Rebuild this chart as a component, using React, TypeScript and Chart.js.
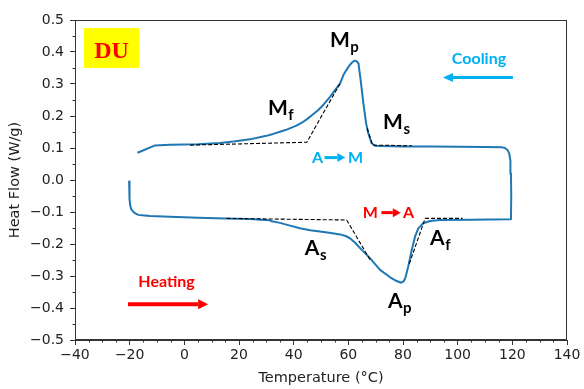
import React, { useEffect, useRef } from 'react';
import { Chart, registerables } from 'chart.js';

Chart.register(...registerables);

// Heating segment (lower curve), temperature °C and heat flow W/g
const heatT = [-20.2, -20.1, -20.0, -19.8, -19.4, -18.7, -17.8, -16.8, -14.5, -12.6, -5.2, 5, 15, 24, 28, 31.3, 32.0, 35, 38, 42.3, 46, 49.6, 53, 57, 59, 60.6, 62.5, 64.3, 68, 71.6, 75.3, 77.5, 79.3, 80.2, 80.9, 81.9, 83.2, 84.4, 85.6, 87.4, 89.9, 93.6, 105, 119.4];
const heatV = [-0.005, -0.03, -0.06, -0.08, -0.092, -0.099, -0.105, -0.109, -0.111, -0.1125, -0.115, -0.118, -0.12, -0.122, -0.124, -0.126, -0.129, -0.134, -0.141, -0.151, -0.157, -0.161, -0.165, -0.17, -0.175, -0.182, -0.196, -0.213, -0.245, -0.281, -0.304, -0.315, -0.321, -0.317, -0.305, -0.271, -0.219, -0.177, -0.151, -0.135, -0.128, -0.125, -0.124, -0.123];

// Cooling segment (upper curve)
const coolT = [119.5, 119.6, 119.5, 119.3, 118.9, 118.2, 117.3, 116.3, 110, 100, 90, 80, 72, 69.8, 68.5, 67.3, 66.5, 65.5, 64.5, 63.7, 63.0, 62.4, 61.6, 60.6, 59.4, 58.2, 57.0, 55.0, 53.3, 51.0, 49.0, 47.0, 45.0, 43.0, 41.0, 39.0, 37.0, 35.0, 32.5, 30.0, 24.0, 18.0, 13.0, 5.0, -5.2, -10.7, -16.9];
const coolV = [-0.12, -0.05, 0.02, 0.06, 0.082, 0.094, 0.1, 0.102, 0.103, 0.104, 0.105, 0.105, 0.106, 0.107, 0.115, 0.146, 0.177, 0.24, 0.3125, 0.365, 0.371, 0.373, 0.369, 0.36, 0.345, 0.328, 0.302, 0.279, 0.26, 0.236, 0.219, 0.205, 0.191, 0.179, 0.17, 0.163, 0.156, 0.151, 0.144, 0.138, 0.127, 0.12, 0.116, 0.112, 0.11, 0.108, 0.086];

// Dashed tangent constructions
const tanMfT = [2.1, 44.8, 57.0];
const tanMfV = [0.109, 0.118, 0.302];
const tanMsT = [66.9, 68.9, 83.2];
const tanMsV = [0.161, 0.109, 0.107];
const tanAsT = [15.5, 59.4, 68.0];
const tanAsV = [-0.12, -0.125, -0.25];
const tanAfT = [82.3, 88.1, 101.8];
const tanAfV = [-0.262, -0.12, -0.12];

// Axis ranges / ticks
const xMin = -40, xMax = 140, xStep = 20, xMinor = 5;
const yMin = -0.5, yMax = 0.5, yStep = 0.1, yMinor = 0.05;

// Transition point labels (data coordinates: left edge, baseline)
const pointLabels = [
  { main: 'M', sub: 'p', x: 53.3, y: 0.417 },
  { main: 'M', sub: 'f', x: 30.6, y: 0.203 },
  { main: 'M', sub: 's', x: 72.7, y: 0.159 },
  { main: 'A', sub: 's', x: 44.1, y: -0.234 },
  { main: 'A', sub: 'p', x: 74.5, y: -0.401 },
  { main: 'A', sub: 'f', x: 89.9, y: -0.203 },
];

const CYAN = '#00B0F0';
const RED = '#FF0000';

const toPts = (xs: number[], ys: number[]) => xs.map((x, i) => ({ x, y: ys[i] }));

function arrow(ctx: CanvasRenderingContext2D, x1: number, x2: number, y: number, w: number, headLen: number, headHalf: number, color: string) {
  const dir = Math.sign(x2 - x1);
  ctx.strokeStyle = color;
  ctx.fillStyle = color;
  ctx.lineWidth = w;
  ctx.lineCap = 'butt';
  ctx.beginPath();
  ctx.moveTo(x1, y);
  ctx.lineTo(x2 - dir * headLen, y);
  ctx.stroke();
  ctx.beginPath();
  ctx.moveTo(x2, y);
  ctx.lineTo(x2 - dir * headLen, y - headHalf);
  ctx.lineTo(x2 - dir * headLen, y + headHalf);
  ctx.closePath();
  ctx.fill();
}

const decor = {
  id: 'decor',
  afterDraw(chart: any) {
    const { ctx, chartArea, scales } = chart;
    const { left, right, top, bottom } = chartArea;
    const sx = scales.x, sy = scales.y;
    const X = (v: number) => sx.getPixelForValue(v);
    const Y = (v: number) => sy.getPixelForValue(v);
    ctx.save();
    // frame
    ctx.strokeStyle = '#333';
    ctx.lineWidth = 1;
    const l = Math.round(left) + 0.5, t = Math.round(top) + 0.5;
    const r = Math.round(right) - 0.5, b = Math.round(bottom) - 0.5;
    ctx.strokeRect(l, t, r - l, b - t);
    // minor ticks
    ctx.beginPath();
    for (let v = xMin; v <= xMax + 1e-9; v += xMinor) {
      if (Math.abs(v % xStep) < 1e-9) continue;
      const px = Math.round(X(v)) + 0.5;
      ctx.moveTo(px, b);
      ctx.lineTo(px, b + 3);
    }
    for (let k = 0; k <= Math.round((yMax - yMin) / yMinor); k++) {
      if (k % 2 === 0) continue;
      const v = yMin + k * yMinor;
      const py = Math.round(Y(v)) + 0.5;
      ctx.moveTo(l, py);
      ctx.lineTo(l - 3, py);
    }
    ctx.stroke();

    // DU box
    const bx1 = X(-36.7), bx2 = X(-16.6), by1 = Y(0.475), by2 = Y(0.35);
    ctx.fillStyle = '#FFFF00';
    ctx.fillRect(bx1, by1, bx2 - bx1, by2 - by1);
    ctx.fillStyle = RED;
    ctx.font = 'bold 24px "Liberation Serif"';
    ctx.textAlign = 'center';
    ctx.textBaseline = 'alphabetic';
    ctx.fillText('DU', (bx1 + bx2) / 2, Y(0.35) - 10);

    // point labels
    ctx.textAlign = 'left';
    ctx.fillStyle = '#000';
    for (const p of pointLabels) {
      const px = X(p.x), py = Y(p.y);
      ctx.font = 'bold 21px Lato';
      ctx.fillText(p.main, px, py);
      const w = ctx.measureText(p.main).width;
      ctx.font = 'bold 15px Lato';
      ctx.fillText(p.sub, px + w + 0.5, py + 5);
    }

    // Cooling
    ctx.fillStyle = CYAN;
    ctx.font = 'bold 16px Lato';
    ctx.textAlign = 'center';
    ctx.fillText('Cooling', X(107.8), Y(0.3625));
    arrow(ctx, X(120.2), X(94.6), Y(0.32), 3, 10, 4.5, CYAN);

    // Heating
    ctx.fillStyle = RED;
    ctx.fillText('Heating', X(-6.5), Y(-0.334));
    arrow(ctx, X(-20.6), X(8.7), Y(-0.388), 4, 10, 5, RED);

    // A -> M
    ctx.textAlign = 'left';
    ctx.fillStyle = CYAN;
    ctx.font = 'bold 16px Lato';
    ctx.fillText('A', X(46.7), Y(0.052));
    arrow(ctx, X(51.3), X(58.9), Y(0.07), 3, 8, 4.5, CYAN);
    ctx.fillText('M', X(59.9), Y(0.052));

    // M -> A
    ctx.fillStyle = RED;
    ctx.fillText('M', X(65.3), Y(-0.12));
    arrow(ctx, X(72.1), X(79.2), Y(-0.102), 3, 8, 4.5, RED);
    ctx.fillText('A', X(80.0), Y(-0.12));
    ctx.restore();
  },
};

export default function App() {
  const ref = useRef<HTMLCanvasElement>(null);
  useEffect(() => {
    document.body.style.margin = '0';
    const dash = (xs: number[], ys: number[]) => ({
      data: toPts(xs, ys),
      borderColor: '#000',
      borderWidth: 1.1,
      borderDash: [4, 2],
      pointRadius: 0,
      fill: false,
      tension: 0,
    });
    const chart = new Chart(ref.current as HTMLCanvasElement, {
      type: 'line',
      data: {
        datasets: [
          dash(tanMfT, tanMfV),
          dash(tanMsT, tanMsV),
          dash(tanAsT, tanAsV),
          dash(tanAfT, tanAfV),
          {
            data: [...toPts(heatT, heatV), ...toPts(coolT, coolV)],
            borderColor: '#1f77b4',
            borderWidth: 2,
            borderJoinStyle: 'round',
            borderCapStyle: 'round',
            pointRadius: 0,
            fill: false,
            tension: 0,
          } as any,
        ],
      },
      options: {
        responsive: false,
        animation: false,
        parsing: false as any,
        layout: { padding: { left: 0, right: 17, top: 20, bottom: 0 } },
        plugins: { legend: { display: false }, tooltip: { enabled: false } },
        scales: {
          x: {
            type: 'linear',
            min: xMin,
            max: xMax,
            afterFit: (s: any) => { s.height = 49; },
            ticks: {
              stepSize: xStep,
              color: '#222',
              font: { family: '"DejaVu Sans"', size: 14 },
              padding: 2,
              maxRotation: 0,
              callback: (v: any) => String(v).replace('-', '\u2212'),
            },
            grid: { drawOnChartArea: false, tickLength: 5, color: '#333' },
            border: { display: true, color: '#333' },
            title: {
              display: true,
              text: 'Temperature (°C)',
              color: '#222',
              font: { family: '"DejaVu Sans"', size: 14.5 },
              padding: { top: 0, bottom: 2 },
            },
          },
          y: {
            type: 'linear',
            min: yMin,
            max: yMax,
            afterFit: (s: any) => { s.width = 75; },
            ticks: {
              stepSize: yStep,
              color: '#222',
              font: { family: '"DejaVu Sans"', size: 14 },
              padding: 6,
              callback: (v: any) => Number(v).toFixed(1).replace('-0.0', '0.0').replace('-', '\u2212'),
            },
            grid: { drawOnChartArea: false, tickLength: 5, color: '#333' },
            border: { display: true, color: '#333' },
            title: {
              display: true,
              text: 'Heat Flow (W/g)',
              color: '#222',
              font: { family: '"DejaVu Sans"', size: 14.5 },
              padding: { top: 7, bottom: 0 },
            },
          },
        },
      },
      plugins: [decor],
    });
    return () => chart.destroy();
  }, []);
  return (
    <div style={{ width: 584, height: 389 }}>
      <canvas ref={ref} width={584} height={389} />
    </div>
  );
}
